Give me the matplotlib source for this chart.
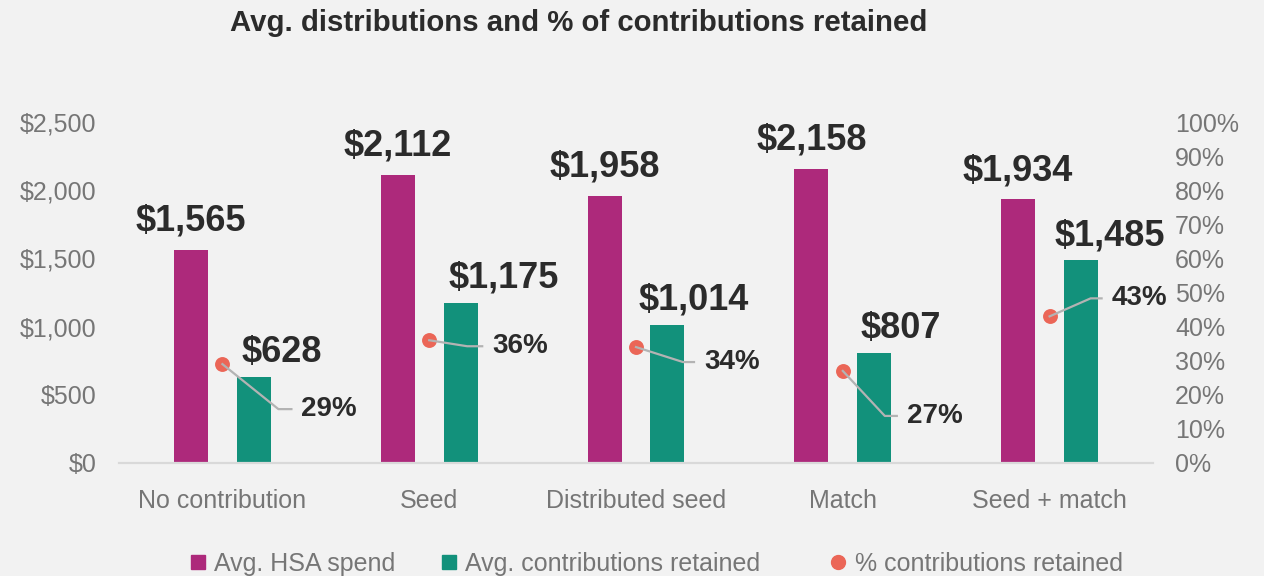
import matplotlib
matplotlib.use("Agg")
import matplotlib.pyplot as plt
from matplotlib.lines import Line2D
from matplotlib.transforms import IdentityTransform
import numpy as np

plt.rcParams['font.family'] = ['Liberation Sans', 'DejaVu Sans']

categories = ["No contribution", "Seed", "Distributed seed", "Match", "Seed + match"]
hsa_spend = [1565, 2112, 1958, 2158, 1934]
contrib_retained = [628, 1175, 1014, 807, 1485]
pct_retained = [29, 36, 34, 27, 43]
left_ticks = [0, 500, 1000, 1500, 2000, 2500]
right_ticks = list(range(0, 101, 10))
legend_labels = ["Avg. HSA spend", "Avg. contributions retained", "% contributions retained"]

# label styling offsets (pixels)
teal_label_dx = [28, 43, 26, 27, 29]
leader_elbow = [(56, -45), (38, -6), (47, -15), (42, -45), (41, 18)]
leader_h = [13, 15, 11, 12, 11]
legend_x_px = [190, 441, 831]

MAGENTA = '#ad297b'
TEAL = '#12917b'
DOT = '#eb6657'
BG = '#f2f2f2'
DARK = '#2b2b2b'
GRAY = '#767676'

fig = plt.figure(figsize=(12.64, 5.76), dpi=100, facecolor=BG)
ax = fig.add_axes([119/1264, 113/576, 1034/1264, 341/576])
ax.set_facecolor(BG)
ax2 = ax.twinx()

x = np.arange(len(categories))
w = 0.164
off1, off2 = -0.152, 0.152
ax.bar(x + off1, hsa_spend, width=w, color=MAGENTA, zorder=2)
ax.bar(x + off2, contrib_retained, width=w, color=TEAL, zorder=2)

ax.set_xlim(-0.5, len(categories) - 0.5)
ax.set_ylim(0, 2500)
ax.set_yticks(left_ticks)
ax.set_yticklabels([f"${t:,}" for t in left_ticks])
ax.set_xticks(x)
ax.set_xticklabels(categories)
ax.tick_params(axis='y', length=0, pad=16, labelsize=18, labelcolor=GRAY)
ax.tick_params(axis='x', length=0, pad=19, labelsize=18, labelcolor=GRAY)
for s in ['top', 'right', 'left']:
    ax.spines[s].set_visible(False)
ax.spines['bottom'].set_color('#d9d9d9')
ax.spines['bottom'].set_linewidth(1.6)

ax2.set_ylim(0, 100)
ax2.set_yticks(right_ticks)
ax2.set_yticklabels([f"{t}%" for t in right_ticks])
ax2.tick_params(axis='y', length=0, pad=16, labelsize=18, labelcolor=GRAY)
for s in ['top', 'right', 'left', 'bottom']:
    ax2.spines[s].set_visible(False)

ax2.scatter(x, pct_retained, s=115, color=DOT, zorder=5, linewidths=0)

for i, v in enumerate(hsa_spend):
    ax.annotate(f"${v:,}", xy=(x[i] + off1, v), xytext=(0, 19), textcoords='offset pixels',
                ha='center', va='baseline', fontsize=26, fontweight='bold', color=DARK)
for i, v in enumerate(contrib_retained):
    ax.annotate(f"${v:,}", xy=(x[i] + off2, v), xytext=(teal_label_dx[i], 15), textcoords='offset pixels',
                ha='center', va='baseline', fontsize=26, fontweight='bold', color=DARK)

fig.canvas.draw()
for i, p in enumerate(pct_retained):
    px, py = ax2.transData.transform((x[i], p))
    dx, dy = leader_elbow[i]
    h = leader_h[i]
    fig.add_artist(Line2D([px, px + dx, px + dx + h], [py, py + dy, py + dy],
                          transform=IdentityTransform(), color='#b3b3b3', lw=1.6, zorder=4))
    ax2.annotate(f"{p}%", xy=(x[i], p), xytext=(dx + h + 10, dy), textcoords='offset pixels',
                 ha='left', va='center', fontsize=20, fontweight='bold', color=DARK)

fig.text(0.4575, 1 - 23/576, "Avg. distributions and % of contributions retained",
         ha='center', va='center', fontsize=21.2, fontweight='bold', color=DARK)

handles = [
    Line2D([], [], marker='s', linestyle='none', markersize=10, color=MAGENTA),
    Line2D([], [], marker='s', linestyle='none', markersize=10, color=TEAL),
    Line2D([], [], marker='o', linestyle='none', markersize=10, color=DOT),
]
for hdl, lab, lx in zip(handles, legend_labels, legend_x_px):
    leg = fig.legend([hdl], [lab], loc='center left', bbox_to_anchor=(lx/1264, 12/576),
                     frameon=False, fontsize=18, handlelength=0.6, handletextpad=0.35,
                     borderpad=0, borderaxespad=0, labelcolor=GRAY)

fig.savefig("out.png", dpi=100, facecolor=BG)
